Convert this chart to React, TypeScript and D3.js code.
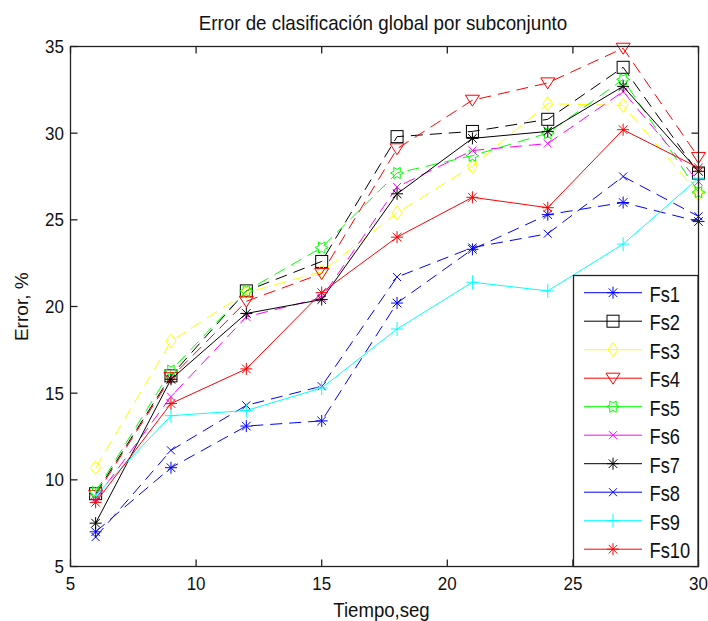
import * as d3 from 'd3';

// tiempo (seg) on the x axis
const tiempo = [6, 9, 12, 15, 18, 21, 24, 27, 30];

// error % per subset
const fs1 = [7.0, 10.7, 13.1, 13.4, 20.2, 23.3, 25.3, 26.0, 24.9];
const fs2 = [9.2, 16.0, 20.9, 22.6, 29.8, 30.1, 30.8, 33.8, 27.7];
const fs3 = [10.7, 18.0, 20.8, 22.0, 25.4, 28.1, 31.7, 31.6, 26.5];
const fs4 = [9.1, 15.9, 20.3, 21.9, 29.1, 31.9, 32.9, 34.9, 28.6];
const fs5 = [9.3, 16.3, 20.9, 23.4, 27.7, 28.7, 30.0, 33.1, 26.6];
const fs6 = [8.9, 14.8, 19.4, 20.5, 26.9, 29.0, 29.4, 32.4, 27.2];
const fs7 = [7.5, 15.8, 19.6, 20.4, 26.5, 29.7, 30.1, 32.7, 27.8];
const fs8 = [6.7, 11.7, 14.3, 15.4, 21.7, 23.4, 24.2, 27.5, 25.2];
const fs9 = [9.1, 13.7, 14.0, 15.3, 18.7, 21.4, 20.9, 23.6, 27.4];
const fs10 = [8.7, 14.4, 16.4, 20.8, 24.0, 26.3, 25.7, 30.2, 28.0];

const names = ['Fs1', 'Fs2', 'Fs3', 'Fs4', 'Fs5', 'Fs6', 'Fs7', 'Fs8', 'Fs9', 'Fs10'];
const series = [fs1, fs2, fs3, fs4, fs5, fs6, fs7, fs8, fs9, fs10];

const xTicks = [5, 10, 15, 20, 25, 30];
const yTicks = [5, 10, 15, 20, 25, 30, 35];

// styles
const colors = ['#0000ff', '#000000', '#ffff00', '#ff0000', '#00ff00', '#ff00ff', '#000000', '#0000ff', '#00ffff', '#ff0000'];
const markers = ['star', 'square', 'diamond', 'tri', 'hex', 'x', 'star', 'x', 'plus', 'star'];
const dashed = [true, true, true, true, true, true, false, true, false, false];

const W = 708, H = 621;
const left = 70.5, right = 698.5, top = 46.5, bottom = 566.5;
const font = '"Liberation Sans", Arial, sans-serif';

const x = d3.scaleLinear().domain([5, 30]).range([left, right]);
const y = d3.scaleLinear().domain([5, 35]).range([bottom, top]);

function Marker({ kind, color, cx, cy }: { kind: string; color: string; cx: number; cy: number }) {
  const p = { stroke: color, fill: 'none', strokeWidth: 1 };
  let el: any = null;
  if (kind === 'star') {
    el = (
      <path {...p} d="M-6,0H6M0,-6V6M-4.3,-4.3L4.3,4.3M-4.3,4.3L4.3,-4.3" />
    );
  } else if (kind === 'square') {
    el = <rect {...p} x={-6} y={-6} width={12} height={12} />;
  } else if (kind === 'diamond') {
    el = <path {...p} d="M0,-7L5,0L0,7L-5,0Z" />;
  } else if (kind === 'tri') {
    el = <path {...p} d="M-7,-5L7,-5L0,6Z" />;
  } else if (kind === 'hex') {
    const pts = d3.range(12).map(i => {
      const a = (i * Math.PI) / 6;
      const r = i % 2 === 0 ? 6.5 : 3.6;
      return [r * Math.cos(a), r * Math.sin(a)];
    });
    el = <path {...p} d={'M' + pts.map(q => q.join(',')).join('L') + 'Z'} />;
  } else if (kind === 'x') {
    el = <path {...p} d="M-4,-4L4,4M-4,4L4,-4" />;
  } else if (kind === 'plus') {
    el = <path {...p} d="M-6,0H6M0,-7V7" />;
  }
  return <g transform={`translate(${cx},${cy})`}>{el}</g>;
}

function Txt({ x0, y0, size, anchor = 'start', sx = 1, rotate = 0, children }: any) {
  return (
    <g transform={`translate(${x0},${y0}) rotate(${rotate}) scale(${sx},1)`}>
      <text x={0} y={0} fontFamily={font} fontSize={size} fill="#111" textAnchor={anchor}>
        {children}
      </text>
    </g>
  );
}

export default function App() {
  const line = d3.line<number>().x((_, i) => x(tiempo[i])).y(d => y(d));
  const tickLen = 7;

  return (
    <svg width={W} height={H} style={{ position: 'absolute', left: 0, top: 0, background: '#fff' }}>
      <rect x={0} y={0} width={W} height={H} fill="#fff" />

      {/* series */}
      {series.map((vals, s) => (
        <g key={names[s]}>
          <path d={line(vals) || ''} fill="none" stroke={colors[s]} strokeWidth={1}
            strokeDasharray={dashed[s] ? '12,7' : undefined} />
          {vals.map((v, i) => (
            <Marker key={i} kind={markers[s]} color={colors[s]} cx={x(tiempo[i])} cy={y(v)} />
          ))}
        </g>
      ))}

      {/* axes box and ticks */}
      <rect x={left} y={top} width={right - left} height={bottom - top} fill="none" stroke="#222" strokeWidth={1.3} />
      {xTicks.map(t => (
        <g key={'x' + t}>
          <line x1={x(t)} x2={x(t)} y1={bottom} y2={bottom - tickLen} stroke="#222" strokeWidth={1.3} />
          <line x1={x(t)} x2={x(t)} y1={top} y2={top + tickLen} stroke="#222" strokeWidth={1.3} />
          <Txt x0={x(t)} y0={590} size={18.5} anchor="middle" sx={0.92}>{t}</Txt>
        </g>
      ))}
      {yTicks.map(t => (
        <g key={'y' + t}>
          <line x1={left} x2={left + tickLen} y1={y(t)} y2={y(t)} stroke="#222" strokeWidth={1.3} />
          <line x1={right} x2={right - tickLen} y1={y(t)} y2={y(t)} stroke="#222" strokeWidth={1.3} />
          <Txt x0={64} y0={y(t) + 6.5} size={18.5} anchor="end" sx={0.92}>{t}</Txt>
        </g>
      ))}

      {/* legend */}
      <rect x={573.5} y={275.5} width={124.5} height={291} fill="#fff" stroke="#222" strokeWidth={1.3} />
      {names.map((n, i) => {
        const ry = 292.7 + i * 28.5;
        return (
          <g key={'lg' + n}>
            <line x1={584} x2={642} y1={ry} y2={ry} stroke={colors[i]} strokeWidth={1} />
            <Marker kind={markers[i]} color={colors[i]} cx={613} cy={ry} />
            <Txt x0={649.5} y0={ry + 9} size={21.5} sx={0.85}>{n}</Txt>
          </g>
        );
      })}

      {/* titles */}
      <Txt x0={383} y0={30} size={20} anchor="middle" sx={0.94}>Error de clasificación global por subconjunto</Txt>
      <Txt x0={381.5} y0={616.5} size={20} anchor="middle" sx={0.93}>Tiempo,seg</Txt>
      <Txt x0={28} y0={306.7} size={18.5} anchor="middle" rotate={-90} sx={1.03}>Error, %</Txt>
    </svg>
  );
}
